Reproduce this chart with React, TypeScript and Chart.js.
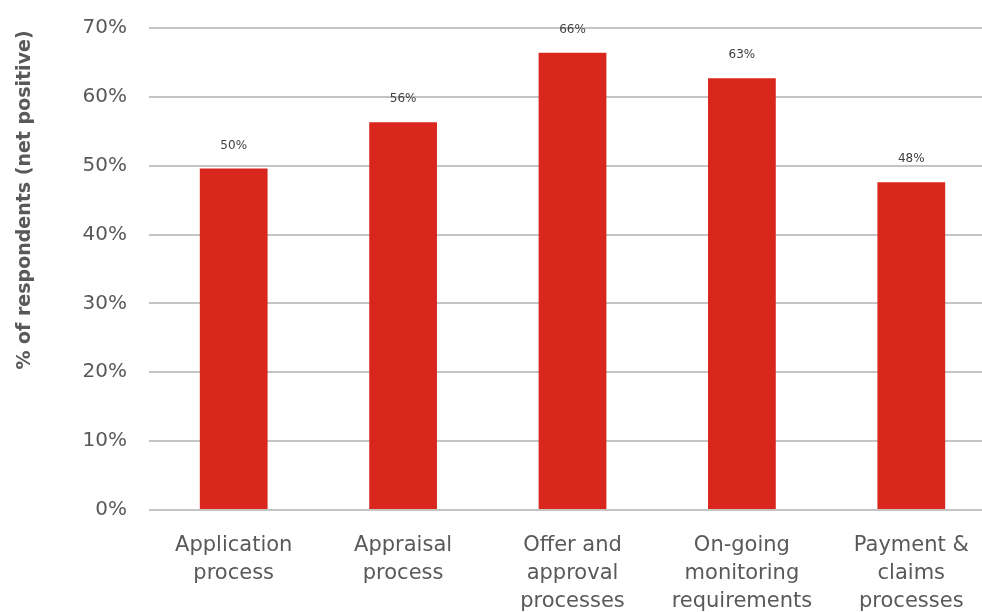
import React, { useEffect, useRef } from "react";
import { Chart, registerables } from "chart.js";

Chart.register(...registerables);

const categories: string[][] = [
  ["Application", "process"],
  ["Appraisal", "process"],
  ["Offer and", "approval", "processes"],
  ["On-going", "monitoring", "requirements"],
  ["Payment &", "claims", "processes"],
];
const values: number[] = [49.6, 56.3, 66.4, 62.7, 47.6];
const valueLabels: string[] = ["50%", "56%", "66%", "63%", "48%"];
const yTicks: number[] = [0, 10, 20, 30, 40, 50, 60, 70];
const yTitle = "% of respondents (net positive)";

const FONT = "'DejaVu Sans', sans-serif";
const GRAY = "#595959";

const dataLabelPlugin = {
  id: "dataLabels",
  afterDatasetsDraw(chart: any) {
    const ctx = chart.ctx;
    const meta = chart.getDatasetMeta(0);
    ctx.save();
    ctx.font = `12px ${FONT}`;
    ctx.fillStyle = "#404040";
    ctx.textAlign = "center";
    ctx.textBaseline = "middle";
    meta.data.forEach((bar: any, i: number) => {
      ctx.fillText(valueLabels[i], bar.x, bar.y - 23);
    });
    ctx.restore();
  },
};

const yTitlePlugin = {
  id: "yTitle",
  afterDraw(chart: any) {
    const ctx = chart.ctx;
    ctx.save();
    ctx.translate(25, 200);
    ctx.rotate(-Math.PI / 2);
    ctx.font = `bold 19px ${FONT}`;
    ctx.fillStyle = GRAY;
    ctx.textAlign = "center";
    ctx.textBaseline = "middle";
    ctx.fillText(yTitle, 0, 0);
    ctx.restore();
  },
};

export default function App() {
  const ref = useRef<HTMLCanvasElement>(null);
  useEffect(() => {
    if (!ref.current) return;
    const chart = new Chart(ref.current, {
      type: "bar",
      data: {
        labels: categories,
        datasets: [
          {
            data: values,
            backgroundColor: "#D9271D",
            barPercentage: 0.4,
            categoryPercentage: 1,
          },
        ],
      },
      options: {
        animation: false,
        responsive: false,
        maintainAspectRatio: false,
        layout: { padding: { top: 28, right: 4, left: 0, bottom: 0 } },
        plugins: { legend: { display: false }, tooltip: { enabled: false } },
        scales: {
          x: {
            grid: { display: false, drawTicks: false },
            border: { display: false },
            ticks: {
              color: GRAY,
              font: { family: FONT, size: 21, lineHeight: 28 / 21 },
              padding: 22,
              maxRotation: 0,
              autoSkip: false,
            },
            afterFit(scale: any) {
              scale.height = 102;
              scale.paddingLeft = 0;
              scale.paddingRight = 0;
            },
          },
          y: {
            min: 0,
            max: 70,
            afterBuildTicks(scale: any) {
              scale.ticks = yTicks.map((v) => ({ value: v }));
            },
            grid: { color: "#C4C4C4", lineWidth: 2, drawTicks: false },
            border: { display: false },
            ticks: {
              color: GRAY,
              font: { family: FONT, size: 20 },
              padding: 22,
              callback: (v: any) => `${v}%`,
            },
            afterFit(scale: any) {
              scale.width = 149;
              scale.paddingTop = 0;
              scale.paddingBottom = 0;
            },
          },
        },
      },
      plugins: [dataLabelPlugin, yTitlePlugin],
    });
    return () => chart.destroy();
  }, []);
  return (
    <div
      style={{
        position: "fixed",
        left: 0,
        top: 0,
        width: 982,
        height: 612,
        overflow: "hidden",
        background: "#fff",
      }}
    >
      <canvas ref={ref} width={1000} height={612} style={{ display: "block" }} />
    </div>
  );
}
